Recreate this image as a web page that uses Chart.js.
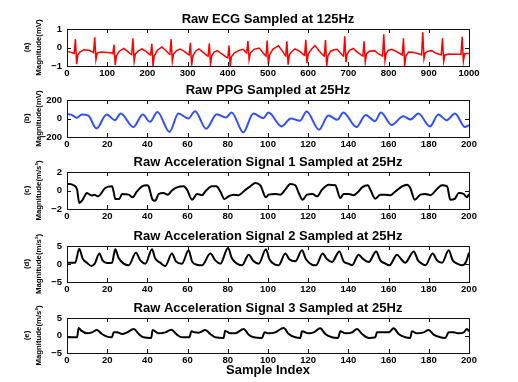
<!DOCTYPE html>
<html>
<head>
<meta charset="utf-8">
<script src="https://cdn.jsdelivr.net/npm/chart.js@4"></script>
<style>
body { margin: 0; background: #fff; }
#fig { position: relative; width: 518px; height: 382px; background: #fff; overflow: hidden; }
canvas { position: absolute; left: 0; }
</style>
</head>
<body>
<div id="fig">
<canvas id="ecg" width="518" height="77" style="top:3px"></canvas>
<canvas id="ppg" width="518" height="77" style="top:74px"></canvas>
<canvas id="acc1" width="518" height="77" style="top:146px"></canvas>
<canvas id="acc2" width="518" height="76" style="top:220px"></canvas>
<canvas id="acc3" width="518" height="86" style="top:292px"></canvas>
</div>
<script>
// ECG at the sample indices where the trace turns
const ecgIdx = [0, 8, 15, 18, 21, 24, 27, 32, 42, 55, 64, 66, 69, 72, 75, 85, 100, 112, 114, 117, 120, 123, 130, 141, 150, 158, 161,
    164, 167, 170, 177, 186, 196, 206, 208, 211, 214, 217, 225, 236, 245, 254, 256, 259, 262, 265, 272, 281, 291, 302, 304,
    307, 310, 313, 320, 328, 338, 349, 351, 354, 357, 360, 366, 374, 385, 397, 400, 403, 406, 409, 416, 427, 438, 445, 447,
    450, 453, 456, 465, 478, 488, 494, 495, 498, 501, 504, 512, 526, 536, 543, 544, 547, 550, 553, 560, 567, 578, 589, 591,
    594, 597, 600, 608, 617, 628, 638, 640, 643, 646, 649, 656, 665, 672, 680, 686, 688, 691, 694, 697, 703, 712, 722, 734,
    736, 739, 742, 745, 752, 765, 775, 783, 785, 788, 791, 794, 800, 808, 818, 830, 834, 837, 840, 843, 850, 860, 872, 880,
    882, 885, 888, 891, 898, 907, 917, 927, 931, 934, 937, 940, 950, 965, 978, 980, 983, 986, 989, 995, 1000]
const ecgMv = [-0.22, -0.25, -0.3, -0.32, 0.45, -0.9, -0.4, -0.25, -0.12, -0.15, -0.25, -0.28, 0.55, -0.65, -0.3, -0.25, -0.27, -0.3, -0.33, 0.15, -0.95, -0.45, -0.2, -0.05, -0.2, -0.35, -0.38,
    0.5, -0.75, -0.35, -0.2, -0.08, -0.2, -0.38, -0.4, 0.2, -1, -0.45, -0.15, 0.03, -0.15, -0.35, -0.37, 0.45, -0.75, -0.35, -0.18, -0.08, -0.2, -0.38, -0.4,
    0.25, -0.98, -0.45, -0.2, -0.08, -0.25, -0.45, -0.47, 0.22, -0.9, -0.45, -0.25, -0.17, -0.35, -0.53, -0.55, 0.1, -1, -0.5, -0.3, -0.17, -0.1, -0.25, -0.3,
    0.35, -0.65, -0.3, -0.1, -0.03, -0.3, -0.45, -0.47, 0.38, -0.9, -0.4, -0.1, 0.1, -0.2, -0.44, -0.46, 0.33, -0.93, -0.4, -0.2, -0.08, -0.2, -0.4, -0.42,
    0.42, -0.85, -0.35, -0.1, 0.1, -0.2, -0.44, -0.46, 0.4, -1, -0.45, -0.2, -0.12, -0.1, -0.3, -0.44, -0.46, 0.6, -0.8, -0.35, -0.15, -0.05, -0.25, -0.44,
    -0.46, 0.33, -0.8, -0.35, -0.2, -0.17, -0.35, -0.44, -0.46, 0.72, -0.7, -0.3, -0.15, -0.1, -0.2, -0.35, -0.4, 0.5, -1, -0.45, -0.25, -0.26, -0.32, -0.38,
    -0.4, 0.82, -0.6, -0.3, -0.2, -0.17, -0.3, -0.38, -0.4, 0.5, -0.75, -0.4, -0.35, -0.36, -0.35, -0.37, 0.58, -0.75, -0.35, -0.32, -0.32]

// PPG peaks and troughs
const ppgIdx = [0, 2, 5, 7.3, 10.6, 14.7, 19.7, 23.9, 26.7, 33, 37.7, 41.3, 45, 51, 55.4, 60.4, 63.7, 69.2, 74.5, 79, 81.9, 87.7,
    92.7, 97.7, 100.2, 106.8, 111.3, 115.9, 119.2, 125.4, 130, 134.5, 137.5, 144, 148.6, 153.2, 156.2, 161.5, 167.3, 170.9,
    174.8, 180.6, 184.7, 188.9, 193, 198, 200]
const ppgMv = [45, 42, 7, 43, 30, -107, 43, -18, 54, -93, 43, -36, 71, -146, 54, 0, 79, -111, 46, 11, 64, -150,
    54, 4, 64, -86, 0, -25, 75, -121, 32, -14, 64, -93, 39, -29, 64, -71, 25, -11,
    54, -86, 43, -18, 54, -93, -71]

// accelerometer axes
const acc1Idx = [0, 1.2, 3.3, 5, 6.1, 7.8, 9.9, 11, 12.4, 13.5, 15.4, 19, 22.4, 23.2, 24, 26, 27.4, 30.7, 32.6, 34.8, 37.3, 39.8,
    40.6, 42.6, 43.9, 45.6, 48, 50.2, 52.2, 54.7, 58, 59.7, 62.2, 64.7, 67.2, 68.8, 72.2, 74.3, 76.3, 78.3, 80.4, 82.9, 85.4,
    88.4, 91.2, 93.7, 96.2, 99, 100.3, 103.6, 106.1, 108.6, 111.1, 113.6, 115.3, 117.2, 119.4, 122.2, 124.4, 126.9, 130.2,
    133.5, 136, 137.6, 140.1, 142.6, 144.8, 146.8, 149.7, 150.9, 153.4, 155.9, 158.4, 160.9, 163.4, 166.7, 169.2, 170.8, 173,
    175.8, 178.3, 180.8, 184.2, 186.6, 189.1, 190.7, 192.9, 194.9, 197.4, 199, 200]
const acc1Val = [0.7, 0.7, 0.56, 0.1, -1.35, -1, -0.27, -0.4, -0.55, -0.45, -0.63, 0.27, 0.45, -0.1, -0.92, -0.92, -0.38, -0.45, -0.74, -0.1, 0.45, 0.56,
    0.45, -1, -1.1, -0.38, -0.27, -0.45, 0, 0.34, 0.45, 0.1, -1, -0.38, -0.5, -0.1, 0.45, 0.45, -0.1, -0.92, -0.63, -0.45, -0.5,
    0, 0.45, 0.8, 0.56, -0.74, -0.45, -0.38, -0.45, 0.1, 0.7, 0.56, -0.27, -1, -0.45, -0.38, -0.63, 0.1, 0.63,
    0.56, -0.81, -0.38, -0.38, -0.5, -0.16, 0.34, 0.56, 0.1, -0.88, -0.45, -0.45, -0.5, -0.1, 0.45, 0.63, 0.27, -1,
    -0.45, -0.38, -0.5, 0.2, 0.56, 0.45, -1, -0.9, -0.27, -0.38, -0.74, -0.38]

const acc2Idx = [0, 4.1, 6.1, 7.8, 9.9, 12.1, 13.8, 16.1, 17.7, 19.9, 22.4, 24, 25.7, 28.2, 30.7, 34.3, 36.5, 39, 42.3, 43.9,
    46.4, 48.9, 52.2, 54.2, 57.2, 60.5, 62.2, 64.7, 67.2, 71.3, 73.8, 76.3, 80.1, 82.1, 84.6, 87.1, 90.4, 92.9, 95.4, 99,
    100.7, 103.6, 105.3, 108.6, 110.6, 113.6, 116.9, 118.9, 121.9, 123.9, 127.2, 129.4, 131.8, 135.5, 137.6, 140.1, 141.8,
    145.1, 147.1, 150.1, 153.8, 155.9, 158.4, 160.4, 164.2, 166.3, 168.3, 172.5, 174.6, 176.6, 178.3, 181.9, 184.1, 186.6,
    189.9, 191.9, 194.1, 196.5, 198.5, 200]
const acc2Val = [0.37, 0.37, 4.26, 1.5, 0.37, -0.55, 0.1, 2.9, 1, 0.28, 0.37, 4.07, 1.67, 0.1, -0.37, 3.15, 1, 0.1, 4.07, 1.5,
    0.37, -0.55, 2.9, 0.74, 0.1, 3.8, 0.74, -0.2, -0.37, 2.9, 1, 0.1, 4.44, 1.5, 0.1, -0.37, 2.6, 0.74, 0.1, 4.07,
    1.3, -0.2, -0.37, 2.9, 1.3, 0.74, 3.8, 1.3, -0.2, -0.37, 2.9, 1.3, 0.55, 3.5, 0.74, 0.1, -0.37,
    2.6, 1.5, 0.55, 3.5, 1, 0.1, -0.37, 2.6, 1.3, 0.37, 3.5, 1, 0.1, -0.37, 2.9, 1, 0.37,
    3.8, 1, 0.1, -0.37, 0.55, 3.15]

const acc3Idx = [0, 5, 5.8, 7.1, 9.9, 12.4, 14.9, 17.4, 19.9, 22.4, 23.2, 24.9, 27.4, 29.9, 33.2, 35.7, 38.1, 41.9, 42.6, 45.6,
    48.9, 51.9, 54.7, 57.2, 60.9, 61.9, 63.5, 65.5, 68.8, 71.3, 73.8, 77.9, 78.7, 81.2, 83.7, 87.9, 90.4, 92.9, 97, 98.3,
    100.3, 103.6, 107.8, 110.3, 113.6, 116.1, 116.9, 120.2, 122.7, 126, 128.5, 131.8, 134.8, 136, 138.5, 141.8, 144.3,
    146.8, 150.1, 153.4, 154.2, 156.7, 160.1, 162.5, 165, 168.3, 170.8, 171.6, 174.1, 177.4, 179.9, 182.4, 185.7, 188.2,
    189.9, 192.4, 194.9, 197.4, 199, 200]
const acc3Val = [-0.52, -0.52, 2.14, 1.38, 0.62, 0.9, 1.57, 0.43, -0.33, -0.52, 0.9, 0.9, 0.43, 0.9, 1.86, 0.43, -0.52, -0.7, 1.57, 0.62,
    0.9, 1.67, 0.24, -0.52, -0.52, 1.19, 0.9, 0.81, 1.57, 0.43, -0.52, -0.7, 1.38, 0.62, 0.62, 1.86, 0.24, -0.52, -0.7, 0.9,
    0.62, 0.9, 2.14, 0.43, -0.52, -0.7, 1.19, 0.62, 0.9, 2.05, 0.43, -0.52, -0.7, 1.19, 0.62, 0.9, 1.86,
    0.43, -0.7, -0.52, 0.9, 0.9, 0.9, 2.05, 0.43, -0.52, -0.7, 1.19, 0.62, 0.9, 1.57, 0.24, -0.52, -0.7,
    0.9, 0.9, 0.62, 0.9, 1.86, 1.19]

// axis ranges and labels
const titles = ['Raw ECG Sampled at 125Hz', 'Raw PPG Sampled at 25Hz', 'Raw Acceleration Signal 1 Sampled at 25Hz',
    'Raw Acceleration Signal 2 Sampled at 25Hz', 'Raw Acceleration Signal 3 Sampled at 25Hz']
const tags = ['(a)', '(b)', '(c)', '(d)', '(e)']
const yLabels = ['Magnitude(mV)', 'Magnitude(mV)', 'Magnitude(m/s\u00B2)', 'Magnitude(m/s\u00B2)', 'Magnitude(m/s\u00B2)']
const yMins = [-1, -200, -2, -5, -5]
const yMaxs = [1, 200, 2, 5, 5]
const xMaxs = [1000, 200, 200, 200, 200]

Chart.defaults.font.family = '"Liberation Sans", Arial, Helvetica, sans-serif'
Chart.defaults.color = '#000'

const fmt = v => v < 0 ? '\u2212' + Math.abs(v) : String(v)
const toPoints = (xs, ys) => xs.map((x, i) => ({ x, y: ys[i] }))

// matlab style box with inward ticks
const axesBox = {
    id: 'axesBox',
    afterDraw(chart) {
        const { ctx, chartArea: a, scales } = chart
        ctx.save()
        ctx.strokeStyle = '#111'
        ctx.lineWidth = 1
        ctx.beginPath()
        scales.x.ticks.forEach(t => {
            const px = Math.round(scales.x.getPixelForValue(t.value)) + 0.5
            ctx.moveTo(px, a.top); ctx.lineTo(px, a.top + 4)
            ctx.moveTo(px, a.bottom); ctx.lineTo(px, a.bottom - 4)
        })
        scales.y.ticks.forEach(t => {
            const py = Math.round(scales.y.getPixelForValue(t.value)) + 0.5
            ctx.moveTo(a.left, py); ctx.lineTo(a.left + 4, py)
            ctx.moveTo(a.right, py); ctx.lineTo(a.right - 4, py)
        })
        ctx.stroke()
        ctx.strokeRect(Math.round(a.left) + 0.5, Math.round(a.top) + 0.5, Math.round(a.width), Math.round(a.height))
        ctx.restore()
    }
}

function drawPanel(id, i, pts, color, lw, smooth, xTitle) {
    return new Chart(document.getElementById(id), {
        type: 'line',
        data: {
            datasets: [{
                data: pts,
                borderColor: color,
                borderWidth: lw,
                pointRadius: 0,
                tension: smooth ? 0.4 : 0,
                cubicInterpolationMode: smooth ? 'monotone' : 'default'
            }]
        },
        options: {
            responsive: false,
            animation: false,
            devicePixelRatio: 1,
            layout: { padding: { left: 0, right: 49, top: 0, bottom: 0 }, autoPadding: false },
            plugins: {
                legend: { display: false },
                tooltip: { enabled: false },
                title: {
                    display: true,
                    text: titles[i],
                    fullSize: false,
                    color: '#000',
                    font: { size: 13, weight: 'bold' },
                    padding: { top: 8.5, bottom: 1.9 }
                }
            },
            scales: {
                x: {
                    type: 'linear',
                    min: 0,
                    max: xMaxs[i],
                    grid: { display: false, drawTicks: false },
                    border: { display: false },
                    ticks: {
                        stepSize: xMaxs[i] / 10, autoSkip: false, maxRotation: 0, padding: 2,
                        font: { size: 9.5, weight: 'bold' }, callback: v => fmt(v)
                    },
                    title: xTitle
                        ? { display: true, text: xTitle, font: { size: 13, weight: 'bold' }, padding: 0 }
                        : { display: false },
                    afterFit: s => { s.height = xTitle ? 25 : 14 }
                },
                y: {
                    min: yMins[i],
                    max: yMaxs[i],
                    grid: { display: false, drawTicks: false },
                    border: { display: false },
                    ticks: { stepSize: yMaxs[i], padding: 5, font: { size: 9.5, weight: 'bold' }, callback: v => fmt(v) },
                    title: {
                        display: true,
                        text: [tags[i], yLabels[i]],
                        font: { size: 7.8, weight: 'bold', lineHeight: 1.55 },
                        padding: { top: 21, bottom: 0 }
                    },
                    afterFit: s => { s.width = 67 }
                }
            }
        },
        plugins: [axesBox]
    })
}

drawPanel('ecg', 0, toPoints(ecgIdx, ecgMv), '#ff0000', 1.5, false)
drawPanel('ppg', 1, toPoints(ppgIdx, ppgMv), '#3050ff', 2, true)
drawPanel('acc1', 2, toPoints(acc1Idx, acc1Val), '#000', 2, true)
drawPanel('acc2', 3, toPoints(acc2Idx, acc2Val), '#000', 2, true)
drawPanel('acc3', 4, toPoints(acc3Idx, acc3Val), '#000', 2, true, 'Sample Index')
</script>
</body>
</html>
